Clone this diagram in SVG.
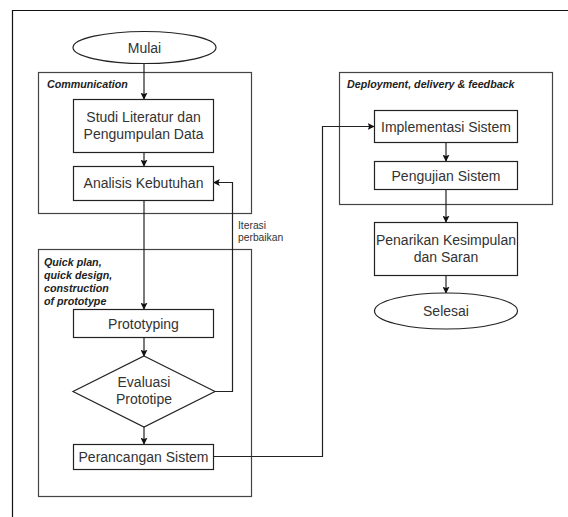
<svg xmlns="http://www.w3.org/2000/svg" width="568" height="517" viewBox="0 0 568 517">
<defs>
<style>
.frame{fill:none;stroke:#111;stroke-width:1.2}
.cont{fill:none;stroke:#444;stroke-width:1.2}
.box{fill:#fff;stroke:#222;stroke-width:1.2}
.t{font-family:"Liberation Sans",Arial,sans-serif;font-size:14px;fill:#333;text-anchor:middle}
.lbl{font-family:"Liberation Sans",Arial,sans-serif;font-size:10.7px;font-weight:bold;font-style:italic;fill:#222}
.note{font-family:"Liberation Sans",Arial,sans-serif;font-size:10.3px;fill:#333}
.c{fill:none;stroke:#222;stroke-width:1.2;marker-end:url(#ah)}
</style>
<marker id="ah" viewBox="0 0 10 10" refX="9" refY="5" markerWidth="7" markerHeight="7" markerUnits="userSpaceOnUse" orient="auto">
<path d="M0,0 L10,5 L0,10 L2,5 z" fill="#111"/>
</marker>
</defs>
<rect width="568" height="517" fill="#fff"/>
<path class="frame" d="M12.5,517 V10.5 H568"/>

<g id="container-communication">
<rect class="cont" x="38.5" y="72.5" width="213" height="141"/>
<text class="lbl" x="47" y="88">Communication</text>
</g>
<g id="container-quick">
<rect class="cont" x="38.5" y="249.5" width="213" height="247"/>
<text class="lbl" x="44" y="266">Quick plan,</text>
<text class="lbl" x="44" y="279">quick design,</text>
<text class="lbl" x="44" y="292">construction</text>
<text class="lbl" x="44" y="305">of prototype</text>
</g>
<g id="container-deployment">
<rect class="cont" x="339.5" y="72.5" width="213" height="132"/>
<text class="lbl" x="347" y="88">Deployment, delivery &amp; feedback</text>
</g>

<g id="connectors">
<path class="c" d="M144,63 V99"/>
<path class="c" d="M144,152 V166"/>
<path class="c" d="M144,200 V309"/>
<path class="c" d="M144,337 V356"/>
<path class="c" d="M144,426 V444"/>
<path class="c" d="M215,391.5 H232.5 V182.5 H213.5"/>
<path class="c" d="M213.5,456.5 H322.5 V126.5 H374"/>
<path class="c" d="M446,142 V161"/>
<path class="c" d="M446,189 V222"/>
<path class="c" d="M446,275 V293"/>
<text class="note" x="238" y="229">Iterasi</text>
<text class="note" x="238" y="241">perbaikan</text>
</g>

<g id="mulai">
<ellipse class="box" cx="144.5" cy="47.5" rx="71.5" ry="16"/>
<text class="t" x="144.5" y="52.5">Mulai</text>
</g>
<g id="studi">
<rect class="box" x="73.5" y="99.5" width="140" height="53"/>
<text class="t" x="143.5" y="122">Studi Literatur dan</text>
<text class="t" x="143.5" y="139">Pengumpulan Data</text>
</g>
<g id="analisis">
<rect class="box" x="73.5" y="166.5" width="140" height="34"/>
<text class="t" x="143.5" y="188">Analisis Kebutuhan</text>
</g>
<g id="prototyping">
<rect class="box" x="73.5" y="309.5" width="140" height="28"/>
<text class="t" x="143.5" y="328.5">Prototyping</text>
</g>
<g id="evaluasi">
<polygon class="box" points="144,356 215,391.5 144,427 73,391.5"/>
<text class="t" x="144" y="387">Evaluasi</text>
<text class="t" x="144" y="404">Prototipe</text>
</g>
<g id="perancangan">
<rect class="box" x="73.5" y="444.5" width="140" height="25"/>
<text class="t" x="143.5" y="462">Perancangan Sistem</text>
</g>
<g id="implementasi">
<rect class="box" x="374.5" y="110.5" width="143" height="32"/>
<text class="t" x="446" y="131.5">Implementasi Sistem</text>
</g>
<g id="pengujian">
<rect class="box" x="374.5" y="161.5" width="143" height="28"/>
<text class="t" x="446" y="180.5">Pengujian Sistem</text>
</g>
<g id="penarikan">
<rect class="box" x="374.5" y="222.5" width="143" height="53"/>
<text class="t" x="446" y="245">Penarikan Kesimpulan</text>
<text class="t" x="446" y="262">dan Saran</text>
</g>
<g id="selesai">
<ellipse class="box" cx="446" cy="311" rx="71.5" ry="18"/>
<text class="t" x="446" y="316">Selesai</text>
</g>
</svg>
